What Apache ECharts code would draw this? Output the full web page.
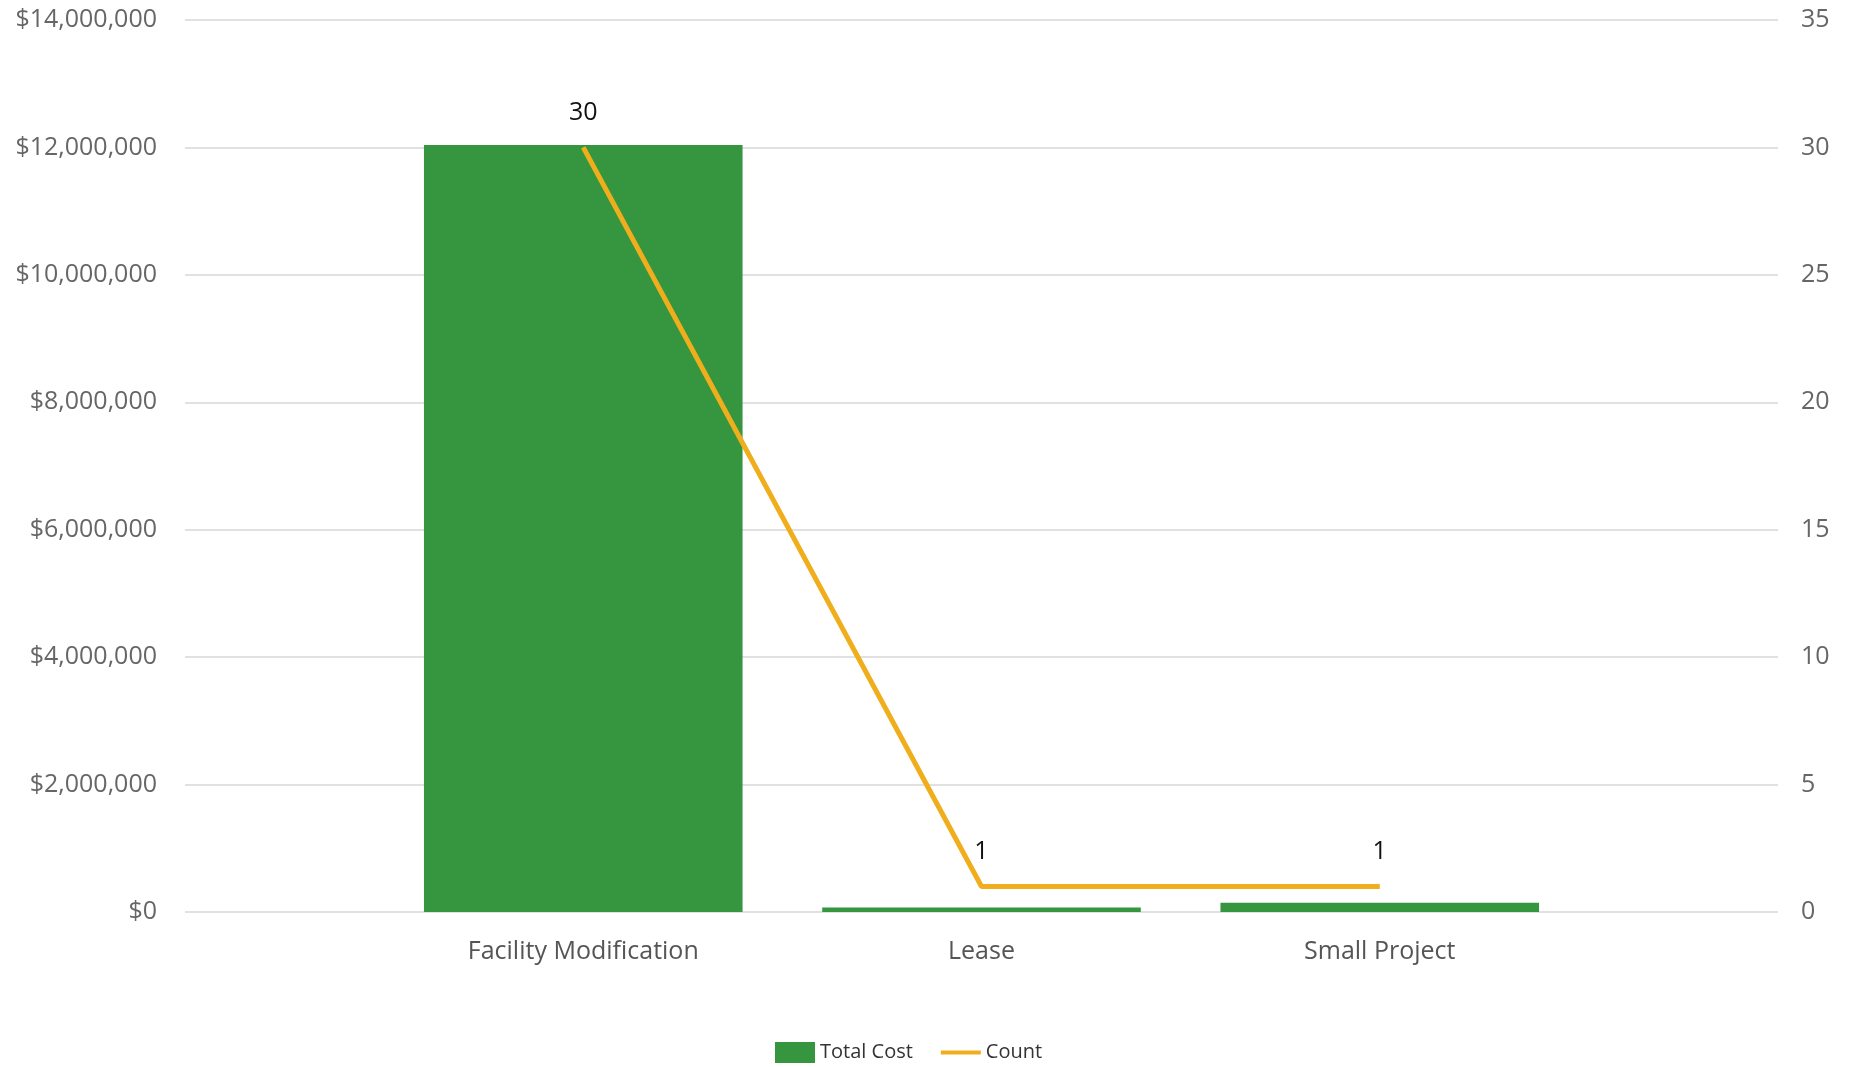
<!DOCTYPE html>
<html>
<head>
<meta charset="utf-8">
<script src="https://cdn.jsdelivr.net/npm/echarts@6/dist/echarts.min.js"></script>
<style>
html,body{margin:0;padding:0;background:#fff;}
#c{width:1856px;height:1067px;}
</style>
</head>
<body>
<div id="c"></div>
<script>
const categories = ['Facility Modification', 'Lease', 'Small Project'];
const totalCost = [12040000, 72000, 146000];
const count = [30, 1, 1];
const costTicks = { min: 0, max: 14000000, interval: 2000000 };
const countTicks = { min: 0, max: 35, interval: 5 };

// pad the category axis so categories sit centred with equal outer gaps
const axisCats = [''].concat(categories, ['']);
const padded = arr => [null].concat(arr, [null]);

const font = '"Open Sans", "Noto Sans", sans-serif';
const chart = echarts.init(document.getElementById('c'));
chart.setOption({
  animation: false,
  backgroundColor: '#ffffff',
  textStyle: { fontFamily: font },
  grid: { left: 185, right: 78, top: 20, bottom: 155, containLabel: false },
  legend: {
    left: 770, top: 1037,
    itemWidth: 40, itemHeight: 21, itemGap: 28,
    textStyle: { fontSize: 20, color: '#333', fontFamily: font },
    data: [
      { name: 'Total Cost', icon: 'rect' },
      { name: 'Count', icon: 'path://M0,0 L42,0 L42,4 L0,4 Z' }
    ]
  },
  xAxis: {
    type: 'category',
    data: axisCats,
    boundaryGap: false,
    axisLine: { show: false },
    axisTick: { show: false },
    axisLabel: { color: '#555', fontSize: 25, margin: 27, fontFamily: font, interval: 0 },
    splitLine: { show: false }
  },
  yAxis: [
    {
      type: 'value', min: costTicks.min, max: costTicks.max, interval: costTicks.interval,
      axisLine: { show: false }, axisTick: { show: false },
      axisLabel: {
        color: '#666', fontSize: 25, margin: 28, fontFamily: font,
        formatter: v => '$' + v.toLocaleString('en-US')
      },
      splitLine: { show: true, lineStyle: { color: '#e1e1e1', width: 2 } }
    },
    {
      type: 'value', min: countTicks.min, max: countTicks.max, interval: countTicks.interval,
      position: 'right',
      axisLine: { show: false }, axisTick: { show: false },
      axisLabel: { color: '#666', fontSize: 25, margin: 23, fontFamily: font },
      splitLine: { show: false }
    }
  ],
  series: [
    {
      name: 'Total Cost', type: 'bar', yAxisIndex: 0,
      data: padded(totalCost),
      barWidth: '80%',
      itemStyle: { color: '#35963f' }
    },
    {
      name: 'Count', type: 'line', yAxisIndex: 1,
      data: padded(count),
      symbol: 'circle', symbolSize: 1, showSymbol: true,
      lineStyle: { color: '#f0ad1c', width: 5 },
      itemStyle: { color: '#f0ad1c' },
      label: { show: true, position: 'top', distance: 22, color: '#111', fontSize: 25, fontFamily: font }
    }
  ]
});
</script>
</body>
</html>
